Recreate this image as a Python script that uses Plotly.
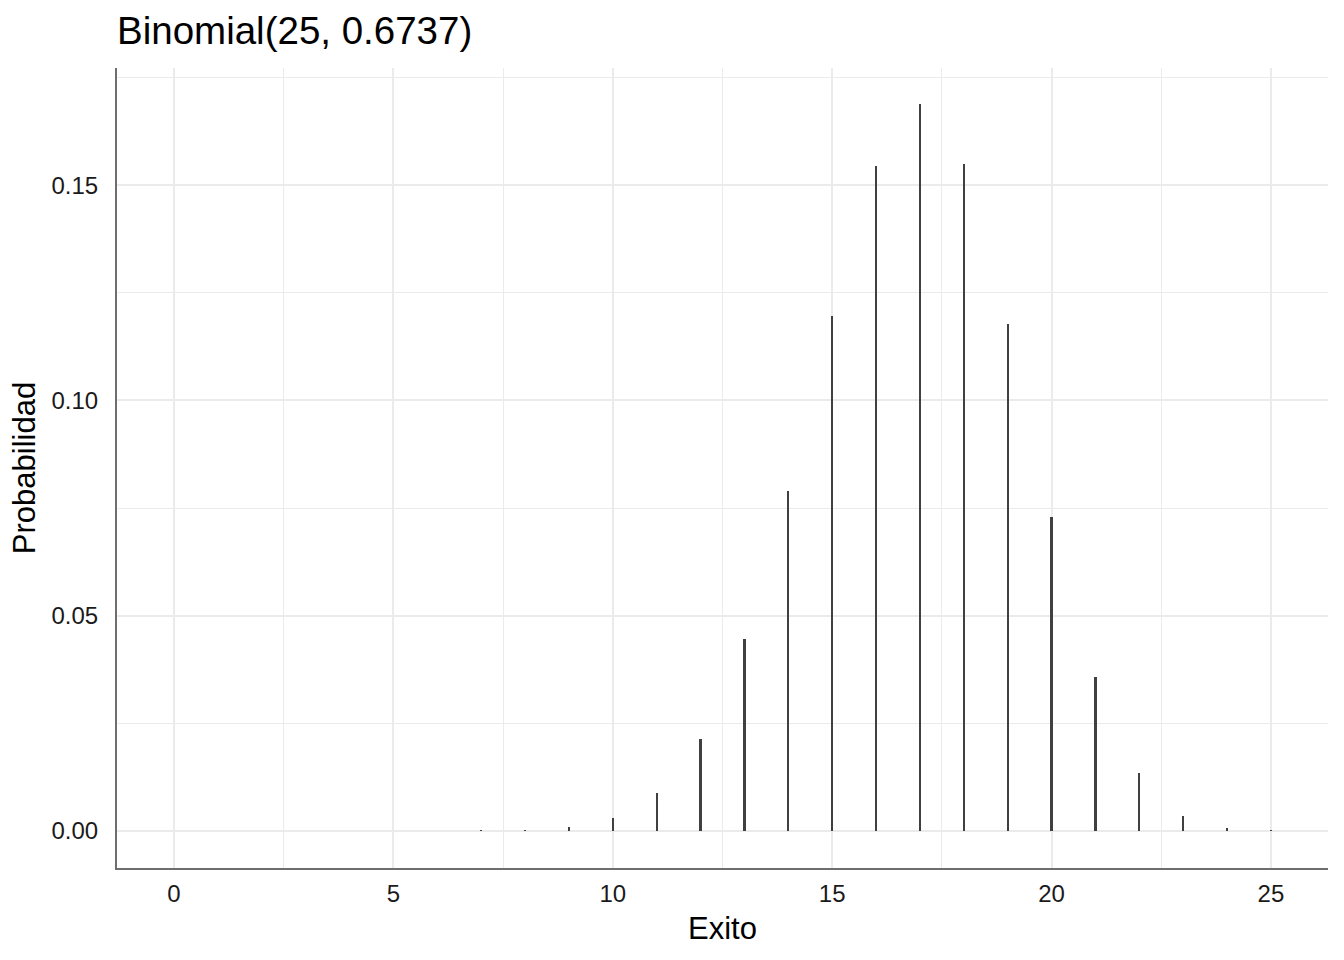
import plotly.graph_objects as go

exitos = list(range(0, 26))
probabilidad = [0.0, 0.0, 0.0, 0.0, 0.0, 0.0, 0.0, 0.00004, 0.0002, 0.0009,
                0.0030, 0.0088, 0.0214, 0.0446, 0.0789, 0.1196, 0.1544, 0.1688,
                0.1549, 0.1177, 0.0729, 0.0358, 0.0135, 0.0035, 0.0007, 0.00005]

x_ticks = [0, 5, 10, 15, 20, 25]
y_ticks = [0.0, 0.05, 0.10, 0.15]
y_labels = ["0.00", "0.05", "0.10", "0.15"]

fig = go.Figure()
fig.add_trace(go.Bar(x=exitos, y=probabilidad, width=0.05,
                     marker=dict(color="#404040", line=dict(width=0)),
                     showlegend=False))

fig.update_layout(
    width=1344, height=960,
    paper_bgcolor="white", plot_bgcolor="white",
    margin=dict(l=117, r=16, t=68, b=92),
    font=dict(family="Liberation Sans, Arial, sans-serif", color="#1a1a1a"),
    title=dict(text="Binomial(25, 0.6737)", x=117/1344, xanchor="left",
               xref="container", y=1-31/960, yanchor="middle", yref="container",
               font=dict(size=38.5, color="black")),
    bargap=0,
)
fig.update_xaxes(
    range=[-1.3, 26.3], tickvals=x_ticks, ticktext=[str(v) for v in x_ticks],
    showgrid=True, gridcolor="#ebebeb", gridwidth=2,
    minor=dict(dtick=2.5, tick0=0, showgrid=True, gridcolor="#ebebeb", gridwidth=1),
    zeroline=False, showline=True, linecolor="#6e6e6e", linewidth=2,
    ticks="outside", ticklen=3, tickcolor="rgba(0,0,0,0)",
    tickfont=dict(size=24, color="#1a1a1a"),
    title=dict(text="Exito", font=dict(size=31, color="black"), standoff=12),
)
fig.update_yaxes(
    range=[-0.0086, 0.1772], tickvals=y_ticks, ticktext=y_labels,
    showgrid=True, gridcolor="#ebebeb", gridwidth=2,
    minor=dict(dtick=0.025, tick0=0, showgrid=True, gridcolor="#ebebeb", gridwidth=1),
    zeroline=False, showline=True, linecolor="#6e6e6e", linewidth=2,
    ticks="outside", ticklen=12, tickcolor="rgba(0,0,0,0)",
    tickfont=dict(size=24, color="#1a1a1a"),
    title=dict(text="Probabilidad", font=dict(size=31, color="black"), standoff=7),
)

fig.write_html("out.html", config={"displayModeBar": False},
               post_script="document.body.style.margin='0';")
